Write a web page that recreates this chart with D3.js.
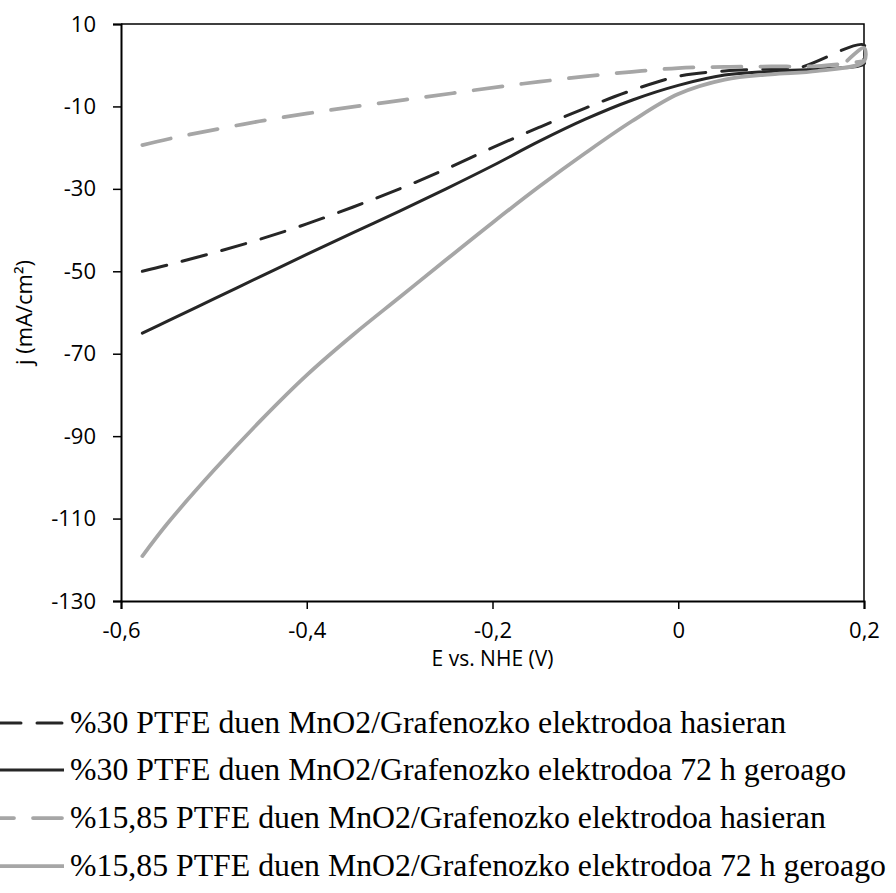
<!DOCTYPE html>
<html>
<head>
<meta charset="utf-8">
<script src="https://cdn.jsdelivr.net/npm/d3@7/dist/d3.min.js"></script>
<style>
  html, body { margin: 0; padding: 0; background: #fff; }
  svg { display: block; }
</style>
</head>
<body>
<svg id="chart" width="896" height="893"></svg>
<script>
// Potential sweep (V vs. NHE) and current density (mA/cm²) for each electrode
const pfte30StartE = [-0.577,-0.55,-0.5,-0.45,-0.4,-0.35,-0.3,-0.25,-0.2,-0.15,-0.1,-0.05,0,0.05,0.1,0.13,0.2,0.2];
const pfte30StartJ = [-50.0,-48.5,-45.5,-42.2,-38.5,-34.4,-30.0,-25.2,-20.0,-15.1,-10.4,-6.1,-2.7,-1.4,-0.9,-0.6,4.9,0.5];

const pfte30AfterE = [-0.577,-0.55,-0.5,-0.45,-0.4,-0.35,-0.3,-0.25,-0.2,-0.15,-0.1,-0.05,0,0.05,0.1,0.15,0.2,0.2];
const pfte30AfterJ = [-65.0,-62.1,-56.7,-51.3,-45.9,-40.6,-35.4,-30.0,-24.4,-18.5,-13.1,-8.5,-4.9,-2.4,-1.5,-0.9,0.3,1.5];

const pfte1585StartE = [-0.577,-0.539,-0.503,-0.451,-0.399,-0.347,-0.295,-0.243,-0.189,-0.149,-0.1,-0.05,0,0.05,0.1,0.15,0.2];
const pfte1585StartJ = [-19.4,-17.4,-15.8,-13.6,-11.7,-10.0,-8.4,-6.8,-5.1,-4.0,-2.7,-1.6,-0.7,-0.4,-0.3,-0.2,1.0];

const pfte1585AfterE = [-0.577,-0.55,-0.5,-0.45,-0.4,-0.35,-0.3,-0.25,-0.2,-0.15,-0.1,-0.05,0,0.05,0.1,0.15,0.2,0.2,0.182];
const pfte1585AfterJ = [-119.1,-111.2,-98.3,-86.3,-75.2,-65.4,-56.3,-47.2,-38.2,-29.5,-21.3,-13.6,-7.0,-3.5,-2.2,-1.4,0.9,4.2,1.1];

const seriesNames = [
  "%30 PTFE duen MnO2/Grafenozko elektrodoa hasieran",
  "%30 PTFE duen MnO2/Grafenozko elektrodoa 72 h geroago",
  "%15,85 PTFE duen MnO2/Grafenozko elektrodoa hasieran",
  "%15,85 PTFE duen MnO2/Grafenozko elektrodoa 72 h geroago"
];

const xTicks = [-0.6, -0.4, -0.2, 0, 0.2];
const yTicks = [10, -10, -30, -50, -70, -90, -110, -130];

const xTitle = "E vs. NHE (V)";
const yTitle = "j (mA/cm²)";

// Visual styling per series
const styles = [
  { color: "#262626", width: 3,    dash: "25,16" },
  { color: "#262626", width: 3,    dash: null },
  { color: "#a6a6a6", width: 3.75, dash: "29,19" },
  { color: "#a6a6a6", width: 3.75, dash: null }
];

const seriesData = [
  pfte30StartE.map((e, i) => [e, pfte30StartJ[i]]),
  pfte30AfterE.map((e, i) => [e, pfte30AfterJ[i]]),
  pfte1585StartE.map((e, i) => [e, pfte1585StartJ[i]]),
  pfte1585AfterE.map((e, i) => [e, pfte1585AfterJ[i]])
];

const svg = d3.select("#chart");
const plotLeft = 121, plotRight = 864, plotTop = 24, plotBottom = 601;

const x = d3.scaleLinear().domain([-0.6, 0.2]).range([plotLeft, plotRight]);
const y = d3.scaleLinear().domain([-130, 10]).range([plotBottom, plotTop]);

const fmt = v => (Math.abs(v) < 1e-9 ? "0" : d3.format(".1f")(v).replace(".", ",").replace("−", "-"));

const axisFont = "'Open Sans', 'DejaVu Sans', sans-serif";

// Plot frame (top and right borders)
svg.append("path")
  .attr("d", `M${plotLeft},${plotTop}H${plotRight}V${plotBottom}`)
  .attr("fill", "none")
  .attr("stroke", "#000")
  .attr("stroke-width", 1.5);

// Series lines
const line = d3.line()
  .x(d => x(d[0]))
  .y(d => y(d[1]))
  .curve(d3.curveCatmullRom.alpha(0.5));

const plot = svg.append("g");
seriesData.forEach((data, i) => {
  const s = styles[i];
  plot.append("path")
    .datum(data)
    .attr("d", line)
    .attr("fill", "none")
    .attr("stroke", s.color)
    .attr("stroke-width", s.width)
    .attr("stroke-linecap", "round")
    .attr("stroke-linejoin", "round")
    .attr("stroke-dasharray", s.dash);
});

// Left axis
const yAxis = svg.append("g")
  .attr("transform", `translate(${plotLeft},0)`)
  .call(d3.axisLeft(y).tickValues(yTicks).tickSize(8).tickPadding(17)
    .tickFormat(v => String(v)));
// Bottom axis
const xAxis = svg.append("g")
  .attr("transform", `translate(0,${plotBottom})`)
  .call(d3.axisBottom(x).tickValues(xTicks).tickSize(8).tickPadding(13)
    .tickFormat(fmt));

[yAxis, xAxis].forEach(g => {
  g.select(".domain").attr("stroke", "#000").attr("stroke-width", 2);
  g.selectAll(".tick line").attr("stroke", "#000").attr("stroke-width", 1.5);
  g.selectAll(".tick text")
    .attr("fill", "#000")
    .style("font-family", axisFont)
    .style("font-size", "22px");
});

// Axis titles
svg.append("text")
  .attr("x", (plotLeft + plotRight) / 2)
  .attr("y", 666)
  .attr("text-anchor", "middle")
  .style("font-family", axisFont)
  .style("font-size", "21px")
  .text(xTitle);

svg.append("text")
  .attr("transform", `translate(32,${(plotTop + plotBottom) / 2}) rotate(-90)`)
  .attr("text-anchor", "middle")
  .style("font-family", axisFont)
  .style("font-size", "22px")
  .text(yTitle);

// Legend: dashed keys are drawn right-to-left so a full dash meets the label
const legendRows = [723, 770, 818, 866];
const legend = svg.append("g");
seriesNames.forEach((name, i) => {
  const s = styles[i];
  const ly = legendRows[i];
  legend.append("line")
    .attr("x1", s.dash ? 62 : 64).attr("x2", s.dash ? -12 : 0)
    .attr("y1", ly).attr("y2", ly)
    .attr("stroke", s.color)
    .attr("stroke-width", s.width)
    .attr("stroke-linecap", s.dash ? "round" : "butt")
    .attr("stroke-dasharray", s.dash);
  legend.append("text")
    .attr("x", 70)
    .attr("y", ly + 10)
    .style("font-family", "'Liberation Serif', 'Times New Roman', serif")
    .style("font-size", "31.8px")
    .attr("fill", "#000")
    .text(name);
});
</script>
</body>
</html>
